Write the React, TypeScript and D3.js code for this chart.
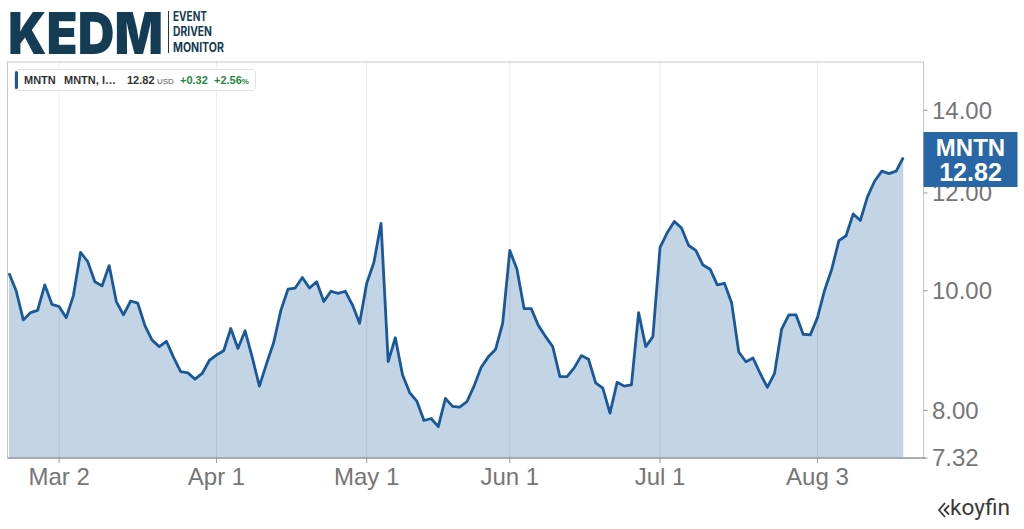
import React, { useEffect, useRef } from 'react';
import * as d3 from 'd3';

// daily closes, Feb 20 -> Aug 19
const closes = [
  10.33, 10.0, 9.47, 9.6, 9.64, 10.11, 9.75, 9.71, 9.51, 9.91,
  10.74, 10.56, 10.17, 10.09, 10.48, 9.8, 9.56, 9.81, 9.77, 9.37,
  9.12, 9.01, 9.1, 8.83, 8.6, 8.58, 8.48, 8.57, 8.78, 8.87,
  8.94, 9.32, 8.98, 9.28, 8.83, 8.37, 8.73, 9.08, 9.64, 10.03,
  10.05, 10.25, 10.05, 10.17, 9.8, 9.99, 9.95, 9.99, 9.74, 9.41,
  10.14, 10.54, 11.34, 8.76, 9.16, 8.55, 8.27, 8.14, 7.85, 7.88,
  7.76, 8.18, 8.06, 8.05, 8.13, 8.37, 8.67, 8.84, 8.96, 9.41,
  10.78, 10.41, 9.67, 9.67, 9.37, 9.18, 9.01, 8.52, 8.52, 8.66,
  8.86, 8.8, 8.42, 8.34, 7.96, 8.43, 8.37, 8.39, 9.6, 9.01,
  9.18, 10.84, 11.14, 11.38, 11.24, 10.88, 10.78, 10.49, 10.41, 10.11,
  10.14, 9.78, 8.92, 8.76, 8.82, 8.57, 8.35, 8.57, 9.31, 9.56,
  9.56, 9.22, 9.21, 9.51, 10.01, 10.41, 10.98, 11.08, 11.54, 11.4,
  11.92, 12.27, 12.5, 12.44, 12.5, 12.82,
];

// x ticks: label + index of the trading day it sits on
const monthLabels = ['Mar 2', 'Apr 1', 'May 1', 'Jun 1', 'Jul 1', 'Aug 3'];
const monthIndex = [7, 29, 50, 70, 91, 113];

const priceTicks = [14, 12, 10, 8, 7.32];
const yDomain = [7.32, 15.32];

const ticker = 'MNTN';
const lastPrice = 12.82;
const change = 0.32;
const changePct = 2.56;

const App = () => {
  const ref = useRef<SVGSVGElement>(null);

  useEffect(() => {
    if (!ref.current) return;
    const svg = d3.select(ref.current);
    svg.selectAll('*').remove();

    const W = 1024;
    const H = 529;
    const left = 7.5;
    const right = 923.5;
    const top = 62;
    const bottom = 458;
    const font = '"Liberation Sans", Arial, sans-serif';

    svg.attr('width', W).attr('height', H);

    const x = d3.scaleLinear().domain([0, closes.length - 1]).range([9, 903.3]);
    const y = d3.scaleLog().domain(yDomain).range([bottom, top]);

    // 1) LOGO
    svg.append('text')
      .attr('x', 8)
      .attr('y', 53.5)
      .attr('font-family', 'Inter, "Open Sans", sans-serif')
      .attr('font-weight', 900)
      .attr('font-size', 58)
      .attr('textLength', 155)
      .attr('lengthAdjust', 'spacingAndGlyphs')
      .attr('fill', '#143c54')
      .text('KEDM');

    svg.append('line')
      .attr('x1', 168.5).attr('x2', 168.5)
      .attr('y1', 11).attr('y2', 53)
      .attr('stroke', '#143c54')
      .attr('stroke-width', 1);

    const tag = [['EVENT', 20.5, 34], ['DRIVEN', 35.5, 39], ['MONITOR', 51.5, 51]] as const;
    tag.forEach(([t, yy, w]) => {
      svg.append('text')
        .attr('x', 173)
        .attr('y', yy)
        .attr('font-family', 'Inter, "Open Sans", sans-serif')
        .attr('font-weight', 700)
        .attr('font-size', 12.5)
        .attr('textLength', w)
        .attr('lengthAdjust', 'spacingAndGlyphs')
        .attr('fill', '#143c54')
        .text(t);
    });

    // 2) PLOT FRAME + AREA
    svg.append('rect')
      .attr('x', left).attr('y', top)
      .attr('width', right - left).attr('height', bottom - top)
      .attr('fill', '#fff')
      .attr('stroke', '#c8c8c8')
      .attr('stroke-width', 1);

    svg.append('clipPath').attr('id', 'plot')
      .append('rect')
      .attr('x', left).attr('y', top)
      .attr('width', right - left).attr('height', bottom - top);

    const g = svg.append('g').attr('clip-path', 'url(#plot)');

    const area = d3.area<number>()
      .x((_, i) => x(i))
      .y0(bottom)
      .y1(d => y(d));

    const line = d3.line<number>()
      .x((_, i) => x(i))
      .y(d => y(d));

    g.append('path')
      .datum(closes)
      .attr('d', area)
      .attr('fill', '#c3d4e5');

    monthIndex.forEach(i => {
      g.append('line')
        .attr('x1', x(i)).attr('x2', x(i))
        .attr('y1', top).attr('y2', bottom)
        .attr('stroke', 'rgba(0,0,0,0.08)')
        .attr('stroke-width', 1);
    });

    g.append('path')
      .datum(closes)
      .attr('d', line)
      .attr('fill', 'none')
      .attr('stroke', '#19599a')
      .attr('stroke-width', 2.8)
      .attr('stroke-linejoin', 'round');

    // 3) AXES
    svg.append('line')
      .attr('x1', left).attr('x2', right + 2)
      .attr('y1', bottom).attr('y2', bottom)
      .attr('stroke', '#9a9a9a')
      .attr('stroke-width', 1.5);

    monthIndex.forEach((idx, k) => {
      svg.append('line')
        .attr('x1', x(idx)).attr('x2', x(idx))
        .attr('y1', bottom).attr('y2', bottom + 5)
        .attr('stroke', '#9a9a9a');
      svg.append('text')
        .attr('x', x(idx))
        .attr('y', 485)
        .attr('text-anchor', 'middle')
        .attr('font-family', font)
        .attr('font-size', 24)
        .attr('fill', '#767676')
        .text(monthLabels[k]);
    });

    priceTicks.forEach(v => {
      svg.append('line')
        .attr('x1', right).attr('x2', right + 4)
        .attr('y1', y(v)).attr('y2', y(v))
        .attr('stroke', '#9a9a9a');
      svg.append('text')
        .attr('x', 932)
        .attr('y', y(v))
        .attr('dy', '0.35em')
        .attr('font-family', font)
        .attr('font-size', 24)
        .attr('fill', '#767676')
        .text(v.toFixed(2));
    });

    // 4) PRICE TAG
    const ty = y(lastPrice);
    svg.append('rect')
      .attr('x', right).attr('y', ty - 25.5)
      .attr('width', 94).attr('height', 55)
      .attr('fill', '#2866a5');
    svg.append('text')
      .attr('x', right + 47).attr('y', ty - 2)
      .attr('text-anchor', 'middle')
      .attr('font-family', font)
      .attr('font-weight', 700)
      .attr('font-size', 24)
      .attr('fill', '#fff')
      .text(ticker);
    svg.append('text')
      .attr('x', right + 47).attr('y', ty + 23)
      .attr('text-anchor', 'middle')
      .attr('font-family', font)
      .attr('font-weight', 700)
      .attr('font-size', 25)
      .attr('fill', '#fff')
      .text(lastPrice.toFixed(2));

    // 5) LEGEND
    const lg = svg.append('g');
    lg.append('rect')
      .attr('x', 14.5).attr('y', 69.5)
      .attr('width', 241).attr('height', 21)
      .attr('rx', 3)
      .attr('fill', '#fff')
      .attr('stroke', '#e2e2e2');
    lg.append('rect')
      .attr('x', 15).attr('y', 71)
      .attr('width', 3).attr('height', 18)
      .attr('rx', 1.5)
      .attr('fill', '#19599a');
    const lgText = lg.append('text')
      .attr('y', 84)
      .attr('font-family', font)
      .attr('font-weight', 700)
      .attr('font-size', 11)
      .attr('fill', '#333');
    lgText.append('tspan').attr('x', 24).text(ticker);
    lgText.append('tspan').attr('x', 64).text('MNTN, I…');
    lgText.append('tspan').attr('x', 127).text(lastPrice.toFixed(2));
    lgText.append('tspan').attr('x', 157).attr('font-size', 8).attr('font-weight', 400).attr('fill', '#555').text('USD');
    lgText.append('tspan').attr('x', 180).attr('fill', '#1e8a3c').text(`+${change.toFixed(2)}`);
    lgText.append('tspan').attr('x', 214).attr('fill', '#1e8a3c').text(`+${changePct.toFixed(2)}`);
    lgText.append('tspan').attr('font-size', 8).attr('fill', '#1e8a3c').text('%');

    // 6) KOYFIN MARK
    svg.append('path')
      .attr('d', 'M945,503 L939,510 L945,517 M949,505.5 L944.5,510 L949,514.5')
      .attr('fill', 'none')
      .attr('stroke', '#3a3a3a')
      .attr('stroke-width', 1.8);
    svg.append('text')
      .attr('x', 950)
      .attr('y', 515)
      .attr('font-family', 'Roboto, "Noto Sans", sans-serif')
      .attr('font-size', 22)
      .attr('textLength', 60)
      .attr('lengthAdjust', 'spacingAndGlyphs')
      .attr('fill', '#3a3a3a')
      .text('koyfin');
  }, []);

  return (
    <div style={{ position: 'absolute', left: 0, top: 0 }}>
      <svg ref={ref} />
    </div>
  );
};

export default App;
